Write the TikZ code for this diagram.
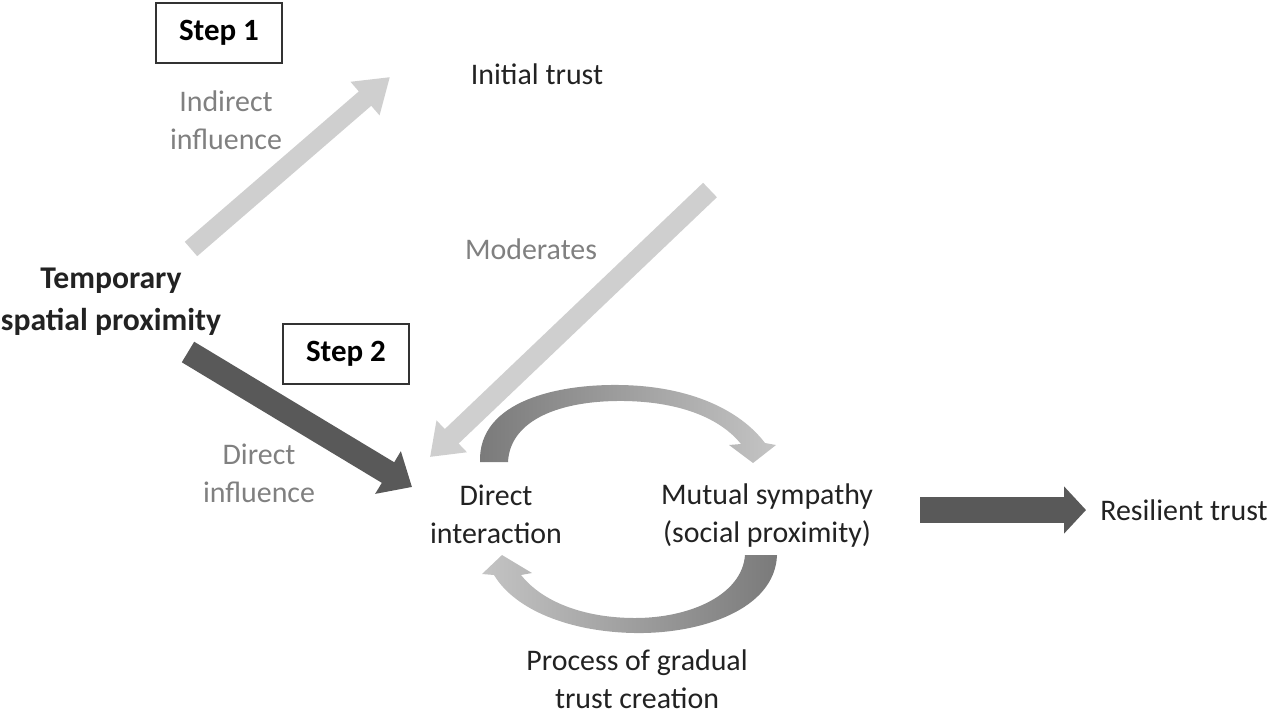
\documentclass[tikz,border=0pt]{standalone}
\usepackage{fontspec}
\setmainfont{Carlito}
\usetikzlibrary{arrows.meta}
\definecolor{lightarrow}{HTML}{CFCFCF}
\definecolor{darkarrow}{HTML}{595959}
\definecolor{darkarc}{HTML}{7A7A7A}
\definecolor{lightarc}{HTML}{C4C4C4}
\definecolor{labelgray}{HTML}{808080}
\definecolor{textdark}{HTML}{222222}
\tikzset{
	lbl/.style={align=center, text=textdark, inner sep=0pt, font=\fontsize{8.5}{10.8}\selectfont},
	note/.style={lbl, text=labelgray},
	stepbox/.style={draw=black!80, line width=0.6pt, minimum width=1.26cm, minimum height=0.6cm, font=\fontsize{8.8}{10.8}\selectfont\bfseries},
	fat/.style={line width=#1},
}

\begin{document}
\begin{tikzpicture}[x=0.01cm, y=-0.01cm]
	\useasboundingbox (0,0) rectangle (1280,718);
	% boxes and labels
	\node[stepbox] (step1) at (219,33) {Step 1};
	\node[stepbox] (step2) at (346,354) {Step 2};
	\node[lbl] (initial) at (537,74) {Initial trust};
	\node[note] (indirect) at (226,120) {Indirect\\influence};
	\node[note] (moderates) at (531,249) {Moderates};
	\node[lbl, font=\fontsize{9}{12}\selectfont\bfseries] (temporary) at (111,302) {Temporary\\spatial proximity};
	\node[note] (directinf) at (259,473) {Direct\\influence};
	\node[lbl] (interaction) at (496,514) {Direct\\interaction};
	\node[lbl] (sympathy) at (767,516) {Mutual sympathy\\(social proximity)};
	\node[lbl] (resilient) at (1184,510) {Resilient trust};
	\node[lbl] (process) at (637,679) {Process of gradual\\trust creation};
	% arrow ends
	\coordinate (ind-a) at (191,249);
	\coordinate (ind-b) at (390,77);
	\coordinate (mod-a) at (710,190);
	\coordinate (mod-b) at (430,457);
	\coordinate (dir-a) at (188,352);
	\coordinate (dir-b) at (412,487);
	\coordinate (res-a) at (920,510);
	\coordinate (res-b) at (1086,510);
	% straight arrows
	\draw[lightarrow, fat=1.9mm, -{Triangle[width=4.2mm,length=3.3mm]}] (ind-a) -- (ind-b);
	\draw[lightarrow, fat=2mm, -{Triangle[width=4.2mm,length=3mm]}] (mod-a) -- (mod-b);
	\draw[darkarrow, fat=2.4mm, -{Triangle[width=4.8mm,length=2.8mm]}] (dir-a) -- (dir-b);
	\draw[darkarrow, fat=2.6mm, -{Triangle[width=4.6mm,length=2.2mm]}] (res-a) -- (res-b);
	% cycle
	\shade[left color=darkarc, right color=lightarc] (480,462) .. controls (478,400) and (560,384) .. (620,385)
		.. controls (690,386) and (740,410) .. (765,443) -- (776,445) -- (753,463) -- (729,445) -- (741,444)
		.. controls (720,418) and (680,402) .. (625,401) .. controls (560,400) and (510,420) .. (508,462) -- cycle;
	\shade[left color=lightarc, right color=darkarc] (777,555) .. controls (775,610) and (700,634) .. (635,633)
		.. controls (570,632) and (515,610) .. (494,575) -- (482,574) -- (502,555) -- (532,573) -- (521,575)
		.. controls (545,605) and (590,618) .. (635,618) .. controls (690,618) and (742,595) .. (745,555) -- cycle;
\end{tikzpicture}
\end{document}
